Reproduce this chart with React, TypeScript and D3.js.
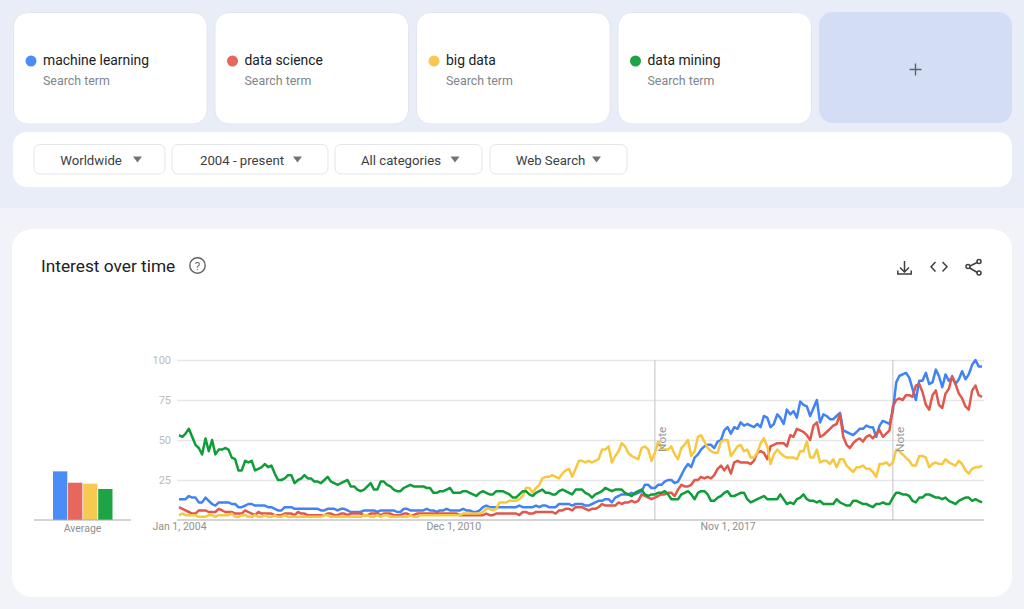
import React, { useRef, useEffect } from 'react';
import * as d3 from 'd3';

const termNames = ['machine learning', 'data science', 'big data', 'data mining'];
const filterNames = ['Worldwide', '2004 - present', 'All categories', 'Web Search'];
const yTicks = [25, 50, 75, 100];
const xTickLabels = ['Jan 1, 2004', 'Dec 1, 2010', 'Nov 1, 2017'];
const noteDates = ['Jan 1, 2016', 'Jan 1, 2022'];
const averages = [30.4, 23.3, 22.7, 19.4];

// monthly values, Jan 2004 to Apr 2024
const machineLearning = [
  13, 13, 13, 15, 14, 14, 11, 11, 14, 12,
  10, 9, 11, 11, 11, 11, 10, 10, 8, 8,
  9, 10, 10, 9, 9, 9, 9, 8, 8, 7,
  6, 6, 8, 8, 8, 7, 7, 7, 7, 7,
  7, 7, 7, 6, 6, 7, 7, 7, 6, 7,
  7, 6, 5, 5, 5, 5, 6, 6, 6, 6,
  5, 6, 6, 6, 6, 6, 5, 5, 7, 7,
  6, 6, 6, 6, 6, 7, 6, 6, 5, 6,
  6, 7, 6, 6, 6, 6, 7, 6, 6, 5,
  5, 6, 8, 9, 8, 8, 8, 8, 8, 8,
  8, 8, 8, 9, 8, 8, 8, 8, 9, 8,
  9, 9, 8, 8, 8, 10, 10, 10, 10, 9,
  10, 10, 10, 9, 9, 10, 11, 12, 12, 13,
  13, 11, 14, 15, 16, 16, 16, 17, 16, 17,
  18, 22, 22, 20, 20, 22, 22, 24, 25, 25,
  23, 24, 28, 32, 35, 33, 39, 41, 44, 46,
  47, 47, 45, 49, 50, 56, 58, 54, 58, 57,
  61, 59, 60, 59, 58, 60, 58, 65, 64, 58,
  60, 66, 64, 60, 69, 66, 68, 64, 74, 72,
  71, 65, 70, 75, 61, 66, 65, 63, 63, 65,
  67, 56, 55, 54, 53, 55, 57, 57, 59, 58,
  58, 52, 59, 62, 61, 60, 68, 86, 90, 91,
  92, 89, 82, 75, 87, 87, 92, 85, 86, 94,
  90, 83, 91, 87, 89, 85, 88, 93, 88, 91,
  97, 100, 96, 96,
];
const dataScience = [
  8, 7, 6, 5, 4, 4, 6, 6, 6, 5,
  5, 5, 7, 6, 5, 5, 5, 4, 4, 4,
  6, 5, 4, 3, 5, 4, 4, 4, 4, 3,
  3, 3, 4, 4, 4, 3, 5, 4, 4, 3,
  3, 3, 3, 3, 3, 4, 4, 3, 3, 4,
  4, 3, 4, 4, 4, 4, 3, 3, 4, 4,
  4, 3, 4, 4, 4, 3, 3, 3, 4, 4,
  3, 3, 4, 4, 4, 4, 4, 4, 4, 4,
  4, 4, 4, 4, 4, 3, 3, 3, 3, 3,
  3, 3, 3, 4, 3, 3, 4, 4, 4, 4,
  4, 4, 4, 3, 5, 5, 4, 4, 5, 5,
  5, 5, 5, 5, 4, 6, 6, 7, 7, 6,
  8, 8, 8, 7, 6, 7, 7, 8, 10, 9,
  9, 9, 9, 11, 10, 11, 11, 12, 11, 12,
  16, 15, 14, 13, 14, 15, 16, 16, 17, 17,
  15, 19, 22, 21, 21, 22, 25, 25, 27, 26,
  27, 26, 28, 32, 34, 31, 34, 29, 36, 37,
  36, 36, 36, 35, 37, 42, 43, 42, 38, 46,
  47, 48, 48, 48, 46, 53, 52, 57, 56, 55,
  53, 50, 59, 61, 52, 53, 55, 57, 59, 60,
  66, 52, 47, 45, 48, 50, 51, 49, 52, 53,
  51, 54, 56, 52, 54, 56, 71, 75, 76, 75,
  78, 78, 77, 84, 85, 80, 72, 69, 78, 81,
  72, 70, 79, 82, 90, 85, 79, 76, 71, 69,
  81, 84, 78, 77,
];
const bigData = [
  3, 4, 3, 3, 3, 3, 2, 2, 2, 3,
  3, 2, 3, 3, 3, 3, 4, 2, 2, 3,
  3, 2, 2, 3, 2, 2, 3, 2, 2, 3,
  2, 2, 3, 2, 2, 2, 2, 2, 2, 2,
  2, 2, 2, 2, 3, 3, 2, 2, 2, 2,
  2, 2, 2, 2, 2, 2, 3, 3, 2, 2,
  3, 2, 3, 3, 2, 2, 2, 2, 2, 2,
  3, 2, 2, 3, 3, 3, 3, 3, 3, 3,
  3, 3, 3, 3, 3, 3, 4, 4, 4, 4,
  4, 4, 5, 7, 7, 6, 7, 11, 11, 11,
  12, 12, 12, 13, 15, 20, 20, 17, 20, 22,
  26, 27, 27, 28, 27, 26, 29, 31, 32, 27,
  32, 37, 37, 36, 37, 36, 37, 38, 44, 44,
  46, 36, 40, 43, 48, 46, 42, 40, 39, 38,
  45, 46, 44, 37, 42, 49, 45, 44, 44, 46,
  41, 38, 45, 47, 50, 40, 43, 52, 53, 49,
  45, 43, 42, 42, 49, 50, 50, 40, 43, 46,
  47, 43, 44, 39, 39, 42, 48, 51, 46, 35,
  41, 44, 42, 40, 39, 39, 39, 38, 43, 43,
  49, 39, 39, 44, 36, 37, 37, 35, 38, 33,
  38, 38, 34, 32, 30, 33, 33, 34, 32, 32,
  30, 27, 35, 35, 36, 34, 36, 44, 43, 41,
  39, 37, 34, 34, 40, 40, 39, 33, 35, 36,
  35, 35, 38, 36, 35, 34, 37, 35, 31, 29,
  32, 33, 33, 34,
];
const dataMining = [
  53, 52, 54, 57, 52, 47, 45, 41, 51, 43,
  50, 41, 44, 44, 45, 44, 39, 38, 31, 31,
  37, 36, 37, 31, 32, 33, 35, 33, 34, 29,
  25, 25, 26, 28, 28, 23, 25, 26, 28, 26,
  26, 24, 24, 23, 25, 27, 24, 23, 22, 23,
  24, 25, 21, 21, 19, 18, 19, 21, 23, 19,
  19, 24, 24, 22, 21, 19, 18, 18, 20, 21,
  22, 21, 21, 21, 21, 20, 20, 17, 17, 18,
  18, 19, 20, 17, 17, 17, 18, 18, 17, 16,
  15, 17, 18, 17, 16, 16, 18, 18, 18, 17,
  16, 14, 14, 16, 18, 18, 16, 15, 17, 18,
  19, 17, 17, 16, 16, 18, 19, 18, 17, 16,
  19, 19, 19, 17, 16, 14, 16, 17, 18, 20,
  19, 18, 19, 19, 19, 17, 16, 15, 17, 18,
  19, 16, 15, 16, 16, 17, 17, 18, 16, 13,
  13, 13, 16, 17, 18, 16, 13, 17, 18, 18,
  16, 12, 12, 14, 15, 17, 18, 15, 15, 16,
  17, 17, 13, 11, 12, 13, 14, 15, 13, 13,
  13, 13, 16, 13, 10, 11, 10, 13, 14, 16,
  13, 12, 12, 11, 12, 10, 10, 10, 10, 13,
  11, 10, 9, 9, 12, 12, 11, 10, 10, 9,
  8, 10, 10, 11, 10, 10, 14, 17, 17, 16,
  16, 15, 12, 11, 14, 14, 16, 16, 15, 14,
  14, 13, 14, 12, 11, 10, 12, 13, 14, 14,
  12, 13, 12, 11,
];

const allSeries = [machineLearning, dataScience, bigData, dataMining];
const LINE_COLORS = ['#3f83f5', '#e2574c', '#f7c83f', '#0f9d38'];
const BAR_COLORS = ['#4b8df8', '#e5675d', '#f6ca50', '#1fa347'];
const FONT = 'Roboto, sans-serif';

const FILTER_BOXES = [
  { x: 34, w: 131, text: 91, arrow: 137.5 },
  { x: 172, w: 156, text: 242, arrow: 297.5 },
  { x: 335, w: 147, text: 401, arrow: 455 },
  { x: 490, w: 137, text: 550.5, arrow: 596.5 },
];

const parseDate = d3.timeParse('%b %-d, %Y');
const startDate = parseDate('Jan 1, 2004') as Date;
const months = machineLearning.map((_, i) => d3.timeMonth.offset(startDate, i));

const App: React.FC = () => {
  const svgRef = useRef<SVGSVGElement | null>(null);

  useEffect(() => {
    if (!svgRef.current) return;
    const svg = d3.select(svgRef.current);
    svg.selectAll('*').remove();
    svg.attr('font-family', FONT);

    // --- BACKGROUNDS ---
    svg.append('rect').attr('width', 1024).attr('height', 609).attr('fill', '#f1f3f9');
    svg.append('rect').attr('width', 1024).attr('height', 208).attr('fill', '#e9edf8');

    // --- SEARCH TERM CARDS ---
    const cards = svg.append('g').selectAll('g').data(termNames).join('g')
      .attr('transform', (_, i) => `translate(${13.5 + i * 201.5}, 12.5)`);
    cards.append('rect')
      .attr('width', 193.5).attr('height', 111.5).attr('rx', 14)
      .attr('fill', 'white').attr('stroke', '#e3e6ee').attr('stroke-width', 1);
    cards.append('circle')
      .attr('cx', 17.5).attr('cy', 48.5).attr('r', 5.5)
      .attr('fill', (_, i) => BAR_COLORS[i]);
    cards.append('text')
      .attr('x', 29.5).attr('y', 52).attr('font-size', 13.9).attr('fill', '#202124')
      .text(d => d);
    cards.append('text')
      .attr('x', 29.5).attr('y', 72).attr('font-size', 12.4).attr('fill', '#80868b')
      .text('Search term');

    svg.append('rect')
      .attr('x', 819).attr('y', 12).attr('width', 193).attr('height', 111).attr('rx', 14)
      .attr('fill', '#d3def5');
    svg.append('path')
      .attr('d', 'M915.5 63.5v12M909.5 69.5h12')
      .attr('stroke', '#5f6368').attr('stroke-width', 1.4).attr('fill', 'none');

    // --- FILTERS ---
    svg.append('rect')
      .attr('x', 13).attr('y', 132).attr('width', 999).attr('height', 55).attr('rx', 14)
      .attr('fill', 'white');
    const filters = svg.append('g').selectAll('g').data(filterNames).join('g');
    filters.append('rect')
      .attr('x', (_, i) => FILTER_BOXES[i].x).attr('y', 144.5)
      .attr('width', (_, i) => FILTER_BOXES[i].w).attr('height', 29.5).attr('rx', 6)
      .attr('fill', 'white').attr('stroke', '#e3e5e8');
    filters.append('text')
      .attr('x', (_, i) => FILTER_BOXES[i].text).attr('y', 164.5)
      .attr('text-anchor', 'middle').attr('font-size', 13.2).attr('fill', '#3c4043')
      .text(d => d);
    filters.append('path')
      .attr('d', 'M-4.5 -3L4.5 -3L0 3Z')
      .attr('transform', (_, i) => `translate(${FILTER_BOXES[i].arrow}, 159.5)`)
      .attr('fill', '#6f7378');

    // --- CHART CARD ---
    svg.append('rect')
      .attr('x', 12).attr('y', 229).attr('width', 1000).attr('height', 368).attr('rx', 20)
      .attr('fill', 'white');
    svg.append('text')
      .attr('x', 41).attr('y', 272).attr('font-size', 17.3).attr('fill', '#202124')
      .text('Interest over time');
    svg.append('circle')
      .attr('cx', 197.5).attr('cy', 265.5).attr('r', 7.7)
      .attr('fill', 'none').attr('stroke', '#5f6368').attr('stroke-width', 1.4);
    svg.append('text')
      .attr('x', 197.5).attr('y', 270).attr('text-anchor', 'middle')
      .attr('font-size', 11.5).attr('fill', '#5f6368').text('?');

    // header icons: download, embed, share
    const icons = svg.append('g').attr('fill', 'none').attr('stroke', '#3c4043').attr('stroke-width', 1.5);
    icons.append('path').attr('d', 'M904.5 261v10.5M900 267.5l4.5 4.5 4.5-4.5M897.8 270.5v3.5h13.4v-3.5');
    icons.append('path').attr('d', 'M935.5 262l-4.5 4.8 4.5 4.8M942.5 262l4.5 4.8-4.5 4.8');
    icons.append('path').attr('d', 'M979 261.5l-11 5.5 11 6.5');
    icons.append('circle').attr('cx', 979).attr('cy', 261.5).attr('r', 2).attr('fill', 'white');
    icons.append('circle').attr('cx', 968).attr('cy', 266.5).attr('r', 2).attr('fill', 'white');
    icons.append('circle').attr('cx', 979).attr('cy', 273).attr('r', 2).attr('fill', 'white');

    // --- SCALES ---
    const x = d3.scaleTime()
      .domain([startDate, months[months.length - 1]])
      .range([179, 982]);
    const y = d3.scaleLinear().domain([0, 100]).range([520, 360]);

    // --- AVERAGE BARS ---
    const xBar = d3.scaleBand<string>()
      .domain(termNames)
      .range([53, 112.5])
      .paddingInner(0.05);
    svg.append('g').selectAll('rect').data(averages).join('rect')
      .attr('x', (_, i) => xBar(termNames[i]) as number)
      .attr('y', d => y(d))
      .attr('width', xBar.bandwidth())
      .attr('height', d => y(0) - y(d))
      .attr('fill', (_, i) => BAR_COLORS[i]);
    svg.append('line')
      .attr('x1', 34).attr('x2', 131).attr('y1', y(0)).attr('y2', y(0))
      .attr('stroke', '#aaaaaa').attr('stroke-width', 1);
    svg.append('text')
      .attr('x', 82.5).attr('y', 532).attr('text-anchor', 'middle')
      .attr('font-size', 10.5).attr('fill', '#8f8f8f').text('Average');

    // --- GRID ---
    const yAxis = svg.append('g')
      .attr('transform', 'translate(177, 0)')
      .call(d3.axisLeft(y).tickValues(yTicks).tickSize(-807).tickPadding(6));
    yAxis.select('.domain').remove();
    yAxis.selectAll('line').attr('stroke', '#e6e6e6').attr('stroke-width', 1.4);
    yAxis.selectAll('text')
      .attr('fill', '#bbbbbb').attr('font-size', 11).attr('font-family', FONT);

    // --- NOTE MARKERS ---
    const noteX = noteDates.map(d => x(parseDate(d) as Date));
    svg.append('g').selectAll('line').data(noteX).join('line')
      .attr('x1', d => d).attr('x2', d => d)
      .attr('y1', y(100)).attr('y2', y(0))
      .attr('stroke', '#cccccc').attr('stroke-width', 1.2);

    // --- LINES ---
    const line = d3.line<number>()
      .x((_, i) => x(months[i]))
      .y(d => y(d));
    svg.append('g').selectAll('path').data(allSeries).join('path')
      .attr('d', d => line(d))
      .attr('fill', 'none')
      .attr('stroke', (_, i) => LINE_COLORS[i])
      .attr('stroke-width', 2.5)
      .attr('stroke-linejoin', 'round');

    svg.append('g').selectAll('text').data(noteX).join('text')
      .attr('transform', d => `translate(${d + 11}, 452) rotate(-90)`)
      .attr('font-size', 11.8).attr('fill', '#999999')
      .text('Note');

    // --- X AXIS ---
    const xAxis = svg.append('g')
      .attr('transform', `translate(0, ${y(0)})`)
      .call(d3.axisBottom(x)
        .tickValues(xTickLabels.map(d => parseDate(d) as Date))
        .tickFormat(d3.timeFormat('%b %-d, %Y') as any)
        .tickSize(0)
        .tickPadding(3));
    xAxis.select('.domain').attr('d', 'M177 0H984').attr('stroke', '#aaaaaa');
    xAxis.selectAll('text')
      .attr('fill', '#8f8f8f').attr('font-size', 10.5).attr('font-family', FONT);
  }, []);

  return (
    <svg
      ref={svgRef}
      width={1024}
      height={609}
      style={{ position: 'absolute', left: 0, top: 0, display: 'block' }}
    ></svg>
  );
};

export default App;
